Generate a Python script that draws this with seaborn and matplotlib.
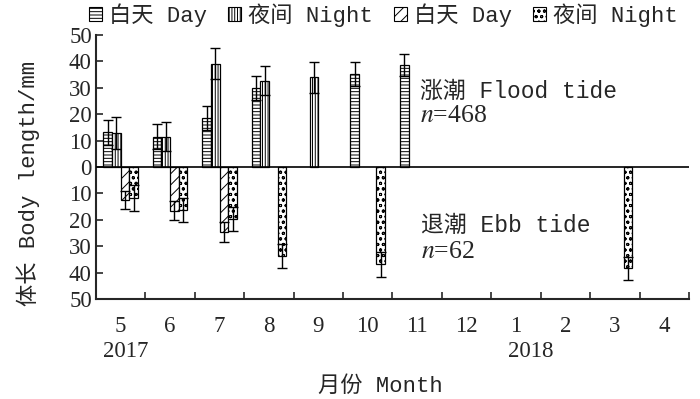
import numpy as np
import pandas as pd
import matplotlib
matplotlib.use("Agg")
import matplotlib.pyplot as plt
import seaborn as sns
from matplotlib.patches import Patch, Rectangle
from matplotlib.ticker import FixedLocator, FuncFormatter

nan = np.nan
months = ['5', '6', '7', '8', '9', '10', '11', '12', '1', '2', '3', '4']
years = ['2017', '2018']
legend_labels = ['白天 Day', '夜间 Night', '白天 Day', '夜间 Night']
group_keys = ['flood_day', 'flood_night', 'ebb_day', 'ebb_night']

flood_day = [13.1, 11.5, 18.7, 30.0, nan, 35.2, 38.6, nan, nan, nan, nan, nan]
flood_day_err = [4.7, 4.7, 4.5, 4.6, nan, 4.6, 4.2, nan, nan, nan, nan, nan]
flood_night = [13.0, 11.5, 39.1, 32.7, 34.0, nan, nan, nan, nan, nan, nan, nan]
flood_night_err = [6.0, 5.5, 5.9, 5.6, 5.8, nan, nan, nan, nan, nan, nan, nan]
ebb_day = [-12.5, -16.5, -24.5, nan, nan, nan, nan, nan, nan, nan, nan, nan]
ebb_day_err = [3.5, 3.5, 3.8, nan, nan, nan, nan, nan, nan, nan, nan, nan]
ebb_night = [-11.6, -16.3, -19.7, -33.7, nan, -36.9, nan, nan, nan, nan, -38.4, nan]
ebb_night_err = [4.9, 4.7, 4.4, 4.7, nan, 4.6, nan, nan, nan, nan, 4.4, nan]

values = [flood_day, flood_night, ebb_day, ebb_night]
errors = [flood_day_err, flood_night_err, ebb_day_err, ebb_night_err]

rows = []
for key, vals in zip(group_keys, values):
    for m, v in zip(months, vals):
        if not np.isnan(v):
            rows.append({'month': m, 'value': v, 'group': key})
df = pd.DataFrame(rows)

sns.set_style('ticks')
plt.rcParams['font.family'] = ['Liberation Serif', 'Noto Sans CJK SC', 'DejaVu Sans']
plt.rcParams['mathtext.fontset'] = 'stix'
plt.rcParams['hatch.linewidth'] = 0.7
mono = ['Liberation Mono', 'Noto Sans CJK SC', 'DejaVu Sans']

fig = plt.figure(figsize=(7, 3.99), dpi=100)
ax = fig.add_axes([96 / 700, 1 - 299 / 399, 593 / 700, 264 / 399])

sns.barplot(data=df, x='month', y='value', hue='group', order=months,
            hue_order=group_keys, width=0.7, errorbar=None, ax=ax,
            legend=False, saturation=1)

hatches = ['-----', '||||||', '///', 'ooo']
for i, cont in enumerate(ax.containers):
    for bar in cont:
        if not isinstance(bar, Rectangle):
            continue
        bar.set_facecolor('white')
        bar.set_edgecolor('black')
        bar.set_hatch(hatches[i])
        bar.set_linewidth(0.9)
        cx = bar.get_x() + bar.get_width() / 2
        ci = int(round(cx))
        err = errors[i][ci]
        if np.isnan(err):
            continue
        top = bar.get_y() + bar.get_height()
        ax.errorbar(cx, top, yerr=err, fmt='none', ecolor='black',
                    elinewidth=1.0, capsize=3.5, capthick=1.0, zorder=5)

ax.axhline(0, color='black', lw=1.2, zorder=6)
ax.set_xlim(-0.5, 11.5)
ax.set_ylim(-50, 50)
ax.yaxis.set_major_locator(FixedLocator(np.arange(-50, 51, 10)))
ax.yaxis.set_major_formatter(FuncFormatter(lambda v, p: f"{abs(int(round(v)))}"))
ax.xaxis.set_major_locator(FixedLocator(np.arange(12)))
ax.set_xticklabels(months)
ax.xaxis.set_minor_locator(FixedLocator(np.arange(0.5, 11.6, 1)))
ax.tick_params(axis='x', which='major', length=0, pad=12, labelsize=16.5)
ax.tick_params(axis='x', which='minor', direction='in', length=5, width=1.2)
ax.tick_params(axis='y', direction='in', length=5, width=1.2, labelsize=16.5, pad=3)
for s in ['top', 'right']:
    ax.spines[s].set_visible(False)
for s in ['left', 'bottom']:
    ax.spines[s].set_linewidth(1.5)
ax.set_xlabel('')
ax.set_ylabel('')

tr = ax.get_xaxis_transform()
ax.text(0.1, -0.2, years[0], transform=tr, ha='center', va='center', fontsize=16.5)
ax.text(8.3, -0.2, years[1], transform=tr, ha='center', va='center', fontsize=16.5)

ax.text(6.06, 28.8, '涨潮 Flood tide', family=mono, fontsize=16.5, va='center', ha='left')
ax.text(6.06, 19.3, r'$n$=468', fontsize=18.5, va='center', ha='left')
ax.text(6.08, -22.3, '退潮 Ebb tide', family=mono, fontsize=16.5, va='center', ha='left')
ax.text(6.08, -32.2, r'$n$=62', fontsize=18.5, va='center', ha='left')

fig.text(380 / 700, 1 - 386 / 399, '月份 Month', family=mono, fontsize=16,
         ha='center', va='center')
fig.text(28 / 700, 1 - 183 / 399, '体长 Body length/mm', family=mono, fontsize=16,
         ha='center', va='center', rotation=90)

handles = [Patch(facecolor='white', edgecolor='black', hatch=h, lw=0.8) for h in hatches]
fig.legend(handles, legend_labels, loc='center', bbox_to_anchor=(383 / 700, 1 - 15 / 399),
           ncol=4, frameon=False, handlelength=0.6, handleheight=0.6,
           handletextpad=0.3, columnspacing=0.95, prop={'family': mono, 'size': 16},
           borderpad=0, borderaxespad=0)

fig.savefig('out.png', dpi=100)
